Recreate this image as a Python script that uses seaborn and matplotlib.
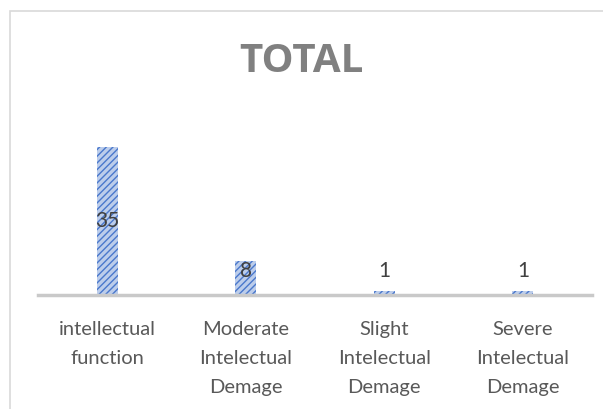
import matplotlib
matplotlib.use("Agg")
import matplotlib.pyplot as plt
import matplotlib.patches as mpatches
import seaborn as sns
import pandas as pd

categories = ["intellectual\nfunction", "Moderate\nIntelectual\nDemage",
              "Slight\nIntelectual\nDemage", "Severe\nIntelectual\nDemage"]
values = [35, 8, 1, 1]
title_text = "TOTAL"

sns.set_theme(style="white")
plt.rcParams["font.family"] = ["Lato", "DejaVu Sans"]
plt.rcParams["hatch.linewidth"] = 1.0

df = pd.DataFrame({"category": categories, "value": values})

fig = plt.figure(figsize=(6.03, 4.09), dpi=100)
ax = fig.add_axes([0.063, 0.2787, 0.919, 0.413])

sns.barplot(data=df, x="category", y="value", ax=ax, width=0.15,
            color="#b4c7e7", saturation=1, edgecolor="#4472c4", linewidth=0,
            hatch="/////")

for p in ax.patches:
    p.set_hatch("/////")
    p.set_edgecolor("#4a78cc")
    p.set_facecolor("#bccdeb")

ax.set_ylim(0, 40)
ax.set_xlim(-0.5, len(categories) - 0.5)
ax.set_xlabel("")
ax.set_ylabel("")
ax.set_yticks([])
ax.set_xticks(range(len(categories)), labels=categories)
ax.tick_params(axis="x", length=0, pad=18.5, labelsize=14.5, labelcolor="#595959")

for s in ["top", "right", "left"]:
    ax.spines[s].set_visible(False)
ax.spines["bottom"].set_color("#c9c9c9")
ax.spines["bottom"].set_linewidth(2.5)

# value labels: centered in the bar, lifted above short bars
for i, v in enumerate(values):
    ax.text(i, max(v / 2, 5.8), str(v), ha="center", va="center",
            fontsize=15, color="#404040")

fig.text(0.5, 0.85, title_text, ha="center", va="center", fontsize=29,
         fontweight="bold", color="#808080", family=["Open Sans", "DejaVu Sans"])

# chart frame
frame = mpatches.Rectangle((9.5 / 603, -0.1), 1.2, (409 - 11) / 409 + 0.1,
                           transform=fig.transFigure, fill=False,
                           edgecolor="#d9d9d9", linewidth=1.2)
fig.patches.append(frame)

fig.canvas.draw()
for lbl in ax.get_xticklabels():
    lbl.set_linespacing(1.85)

fig.savefig("out.png", dpi=100)
